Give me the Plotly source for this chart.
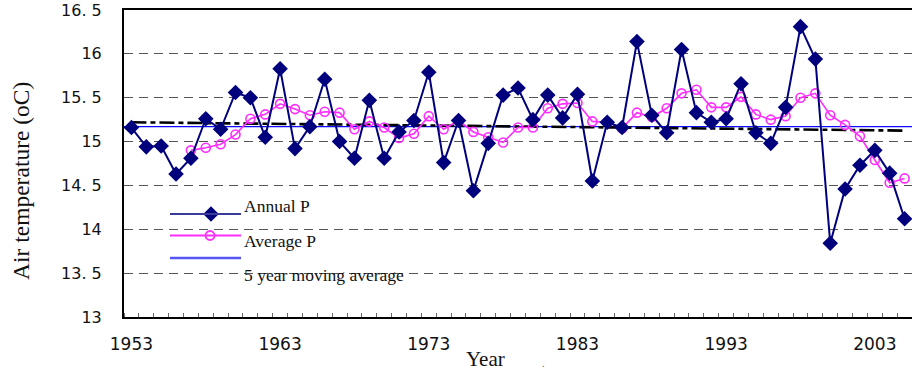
import plotly.graph_objects as go

# ---------------- data ----------------
years = [1953, 1954, 1955, 1956, 1957, 1958, 1959, 1960, 1961, 1962,
         1963, 1964, 1965, 1966, 1967, 1968, 1969, 1970, 1971, 1972,
         1973, 1974, 1975, 1976, 1977, 1978, 1979, 1980, 1981, 1982,
         1983, 1984, 1985, 1986, 1987, 1988, 1989, 1990, 1991, 1992,
         1993, 1994, 1995, 1996, 1997, 1998, 1999, 2000, 2001, 2002,
         2003, 2004, 2005]

annual_p = [15.16, 14.94, 14.95, 14.63, 14.81, 15.26, 15.14, 15.56, 15.50, 15.05,
            15.83, 14.92, 15.17, 15.71, 15.00, 14.81, 15.47, 14.81, 15.11, 15.24,
            15.79, 14.76, 15.24, 14.44, 14.98, 15.53, 15.61, 15.25, 15.53, 15.27,
            15.54, 14.55, 15.22, 15.16, 16.14, 15.30, 15.10, 16.05, 15.33, 15.22,
            15.26, 15.66, 15.10, 14.98, 15.39, 16.31, 15.94, 13.84, 14.46, 14.73,
            14.90, 14.64, 14.12]

average_p = [None, None, None, None, 14.90, 14.93, 14.97, 15.08, 15.26, 15.31,
             15.43, 15.37, 15.30, 15.34, 15.33, 15.14, 15.23, 15.16, 15.04, 15.09,
             15.29, 15.14, 15.24, 15.11, 15.05, 14.99, 15.16, 15.16, 15.38, 15.43,
             15.44, 15.23, 15.22, 15.15, 15.33, 15.28, 15.38, 15.55, 15.59, 15.39,
             15.39, 15.51, 15.31, 15.25, 15.29, 15.50, 15.55, 15.30, 15.19, 15.06,
             14.79, 14.53, 14.58]

mean_level = 15.17
trend_years = [1953, 2005]
trend_vals = [15.22, 15.125]

x_tick_vals = [1953, 1963, 1973, 1983, 1993, 2003]
x_tick_text = ["1953", "1963", "1973", "1983", "1993", "2003"]
y_tick_vals = [13, 13.5, 14, 14.5, 15, 15.5, 16, 16.5]
y_tick_text = ["13", "13. 5", "14", "14. 5", "15", "15. 5", "16", "16. 5"]

legend_labels = ["Annual P", "Average P", "5 year moving average"]

# ---------------- styling ----------------
NAVY = "#00007d"
PINK = "#ff2cff"
BLUE = "#0a0aff"
W, H = 912, 373
L, R, T, B = 124, 0, 10, 56
XTICKFONT = dict(family="DejaVu Sans", size=17, color="#111111")
YTICKFONT = dict(family="DejaVu Sans", size=16, color="#111111")
SERIF = "Liberation Serif"


def px_x(px):
    return (px - L) / (W - L - R)


def px_y(py):
    return (H - B - py) / (H - T - B)


fig = go.Figure()

# trend (dash-dot)
fig.add_trace(go.Scatter(x=trend_years, y=trend_vals, mode="lines",
                         line=dict(color="black", width=2.6, dash="15px,4px,5px,4px"),
                         hoverinfo="skip", showlegend=False))

# average P
fig.add_trace(go.Scatter(x=years, y=average_p, mode="lines+markers",
                         line=dict(color=PINK, width=1.6),
                         marker=dict(symbol="circle-open", size=9, color=PINK,
                                     line=dict(width=1.6, color=PINK)),
                         connectgaps=False, showlegend=False))

# annual P
fig.add_trace(go.Scatter(x=years, y=annual_p, mode="lines+markers",
                         line=dict(color=NAVY, width=2),
                         marker=dict(symbol="diamond", size=12, color=NAVY),
                         showlegend=False))

shapes = []
# mean line
shapes.append(dict(type="line", xref="x domain", yref="y", x0=0, x1=1,
                   y0=mean_level, y1=mean_level,
                   line=dict(color=BLUE, width=1.4), layer="below"))
# legend background (covers gridlines)
shapes.append(dict(type="rect", xref="paper", yref="paper",
                   x0=px_x(157), x1=px_x(463), y0=px_y(300), y1=px_y(190),
                   fillcolor="white", line=dict(width=0), layer="between"))

# legend glyphs
leg_x0, leg_x1 = px_x(170), px_x(241)
leg_rows = [214, 235.5, 258]
leg_colors = ["#3a3a9a", PINK, "#5555f5"]
leg_widths = [2, 2, 2.6]
for yy, cc, ww in zip(leg_rows, leg_colors, leg_widths):
    shapes.append(dict(type="line", xref="paper", yref="paper",
                       x0=leg_x0, x1=leg_x1, y0=px_y(yy), y1=px_y(yy),
                       line=dict(color=cc, width=ww), layer="above"))

# legend markers on overlay pixel axes
fig.add_trace(go.Scatter(x=[211], y=[214], xaxis="x2", yaxis="y2", mode="markers",
                         marker=dict(symbol="diamond", size=12, color=NAVY),
                         showlegend=False, hoverinfo="skip"))
fig.add_trace(go.Scatter(x=[210], y=[235.5], xaxis="x2", yaxis="y2", mode="markers",
                         marker=dict(symbol="circle-open", size=9, color=PINK,
                                     line=dict(width=1.8, color=PINK)),
                         showlegend=False, hoverinfo="skip"))

annotations = []
for lab, yy in zip(legend_labels, [206, 241, 275]):
    annotations.append(dict(text=lab, xref="paper", yref="paper",
                            x=px_x(242), y=px_y(yy), xanchor="left", yanchor="middle",
                            showarrow=False,
                            font=dict(family=SERIF, size=17.5, color="#111111")))

annotations.append(dict(text="Air temperature (oC)", xref="paper", yref="paper",
                        x=px_x(21), y=px_y(181), textangle=-90,
                        xanchor="center", yanchor="middle", showarrow=False,
                        font=dict(family=SERIF, size=23.5, color="#111111")))
annotations.append(dict(text="Year", xref="paper", yref="paper",
                        x=px_x(485), y=px_y(359), xanchor="center", yanchor="middle",
                        showarrow=False,
                        font=dict(family=SERIF, size=21, color="#111111")))
annotations.append(dict(text=".", xref="paper", yref="paper",
                        x=px_x(543), y=px_y(363), xanchor="center", yanchor="middle",
                        showarrow=False,
                        font=dict(family=SERIF, size=10, color="#555555")))

fig.update_layout(
    width=W, height=H,
    margin=dict(l=L, r=R, t=T, b=B, pad=0),
    paper_bgcolor="white", plot_bgcolor="white",
    showlegend=False,
    shapes=shapes, annotations=annotations,
    xaxis=dict(range=[1952.5, 2005.5], tickmode="array",
               tickvals=x_tick_vals, ticktext=x_tick_text,
               ticks="", showgrid=False, zeroline=False,
               showline=True, linecolor="black", linewidth=2, mirror=True,
               tickfont=XTICKFONT, ticklabelstandoff=11,
               minor=dict(ticks="inside", tick0=1952.5, dtick=1, ticklen=4,
                          tickwidth=1, tickcolor="#666666", showgrid=False)),
    yaxis=dict(range=[13, 16.5], tickmode="array",
               tickvals=y_tick_vals, ticktext=y_tick_text,
               ticks="", showgrid=True, gridcolor="#555555", gridwidth=1,
               griddash="9px,6px", zeroline=False,
               showline=True, linecolor="black", linewidth=2,
               tickfont=YTICKFONT, ticklabelstandoff=17),
    xaxis2=dict(range=[L, W - R], overlaying="x", visible=False, fixedrange=True),
    yaxis2=dict(range=[H - B, T], overlaying="y", visible=False, fixedrange=True),
)

fig.write_html("out.html")
